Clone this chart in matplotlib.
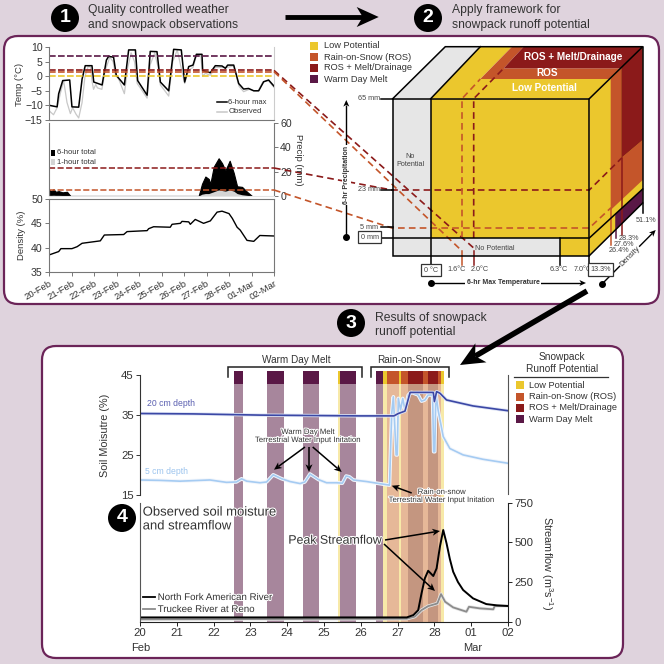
"""Four step snowpack runoff figure: observations, framework, results, response
"""
import matplotlib
matplotlib.use('Agg')
import matplotlib.pyplot as plt
import matplotlib.patheffects as pe
from matplotlib.patches import FancyBboxPatch, Polygon, Rectangle

plt.rcParams['font.family'] = ['Liberation Sans', 'DejaVu Sans']
plt.rcParams['mathtext.default'] = 'regular'

LOW = '#EBC72D'
ROS = '#C4552A'
MELT = '#8B1A1A'
WARM = '#5A1846'
BG = '#DFD3DD'
EDGE = '#6B2458'
TXT = '#333333'
LIGHT = {LOW: '#F7E9A8', ROS: '#E6B898', MELT: '#C49680', WARM: '#A7869C'}

# Panel 1, temperature
temp_days = [20.03, 20.36, 20.43, 20.61, 20.92, 21.02, 21.32, 21.47, 21.61,
             21.91, 21.99, 22.36, 22.55, 22.65, 22.87, 22.99, 23.35, 23.54,
             23.84, 23.94, 24.36, 24.5, 24.8, 24.95, 25.32, 25.54, 25.88,
             26.03, 26.21, 26.4, 26.55, 26.8, 26.83, 27.17, 27.39, 27.69,
             27.84, 27.94, 28.21, 28.43, 28.65, 28.87, 29.1, 29.32, 29.54,
             29.76, 30.0]
temp_max = [-10, -10.5, -6, -1.5, -1.3, -10.5, -10.6, -1, 3.6, 3.6, -2, -3,
            5.5, 6.8, 6.5, 0.3, -3, 9, 9, -1.5, -6.5, 8.5, 8.4, -2, -5, 9.2,
            9, -2, 3.3, 3.8, 7.5, 7.5, 1.9, 1.2, 3.6, 3.5, 2.7, 3.8, 3.8,
            -2.5, -4.4, -4.2, -5, -5, -1.9, -1.3, -3.4]
obs_days = [20.03, 20.2, 20.36, 20.5, 20.65, 20.8, 20.95, 21.05, 21.2, 21.32,
            21.47, 21.6, 21.75, 21.85, 21.92, 21.98, 22.08, 22.15, 22.35,
            22.5, 22.7, 22.85, 22.95, 23.1, 23.35, 23.5, 23.65, 23.8, 23.92,
            24.1, 24.36, 24.5, 24.7, 24.85, 24.95, 25.1, 25.32, 25.5, 25.7,
            25.87, 26.03, 26.2, 26.4, 26.55, 26.75, 26.83, 26.95, 27.17,
            27.4, 27.7, 27.9, 28.2, 28.45, 28.65, 28.9, 29.1, 29.3, 29.5,
            29.75, 30.0]
temp_obs = [-12, -13.2, -10.8, -6, -1.5, -9, -12.8, -10.8, -13, -14.3, -9, 0,
            3.5, 3, -2, -4.5, -2.8, -4, -4.5, 2, 6.5, 5, 0.5, -1, -6, 3, 8, 5,
            -2.5, -4.5, -7.5, 4, 8, 3, -3, -4.5, -6.8, 5, 9, 3, -2.5, 2, 3, 7,
            7, 0, 1, 0.3, 3, 3, 3, 3.5, -3.5, -5.3, -4.5, -5, -5, -2, -1.5,
            -3.8]

# Panel 1, precipitation
precip_days = [20.03, 20.1, 20.2, 20.3, 20.43, 20.6, 20.8, 20.95, 26.65, 26.8,
               26.95, 27.1, 27.17, 27.32, 27.54, 27.69, 27.84, 28.03, 28.21,
               28.36, 28.58, 28.8, 29.02]
precip_6hr = [5, 4, 5.5, 3.5, 4, 3, 3.5, 0, 0, 10, 16, 14, 10, 24, 31, 27, 21,
              29, 19, 8, 7.5, 3.5, 0]
precip_1hr = [0.5, 0.5, 0.6, 0.5, 0.5, 0.4, 0.4, 0, 0, 1.5, 2, 2, 2.5, 3.5,
              5, 4.5, 4, 5, 4, 2, 1, 0.5, 0]

# Panel 1, density
dens_days = [20.0, 20.43, 20.53, 21.02, 21.25, 21.47, 22.28, 22.46, 23.32,
             23.47, 24.36, 24.43, 24.65, 25.39, 25.47, 25.84, 25.91, 26.21,
             26.28, 26.5, 26.87, 27.17, 27.47, 27.69, 28.0, 28.15, 28.36,
             28.5, 28.8, 29.1, 29.37, 30.0]
density = [38.5, 39.2, 39.8, 39.8, 40.2, 40.9, 41.4, 42.6, 42.7, 43.3, 43.5,
           43.9, 44.3, 44.2, 44.8, 45, 45.4, 45.3, 44.8, 45.8, 45, 45.5, 47.3,
           47.5, 47, 46, 44.2, 43.6, 41.5, 41.3, 42.5, 42.4]
date_labels = ['20-Feb', '21-Feb', '22-Feb', '23-Feb', '24-Feb', '25-Feb',
               '26-Feb', '27-Feb', '28-Feb', '01-Mar', '02-Mar']

# Panel 4, runoff potential bands
band_start = [22.55, 23.44, 24.43, 25.38, 25.44, 26.42, 26.59, 26.71, 27.03,
              27.09, 27.29, 27.68, 27.82, 28.10, 28.18]
band_end = [22.79, 23.90, 24.87, 25.44, 25.88, 26.59, 26.71, 27.03, 27.09,
            27.29, 27.68, 27.82, 28.10, 28.18, 28.26]
band_color = [WARM, WARM, WARM, LOW, WARM, WARM, LOW, ROS, LOW, ROS, MELT, ROS,
              MELT, ROS, LOW]

# Panel 4, soil moisture
sm20_days = [20.0, 21.45, 23.26, 25.97, 26.9, 27.02, 27.2, 27.34, 27.97, 28.0,
             28.06, 28.15, 28.33, 29.05, 30.0]
sm20 = [35.4, 35.3, 35.0, 34.8, 34.8, 35.4, 36, 40.7, 40.7, 38.4, 40.9, 40.5,
        38.8, 37.3, 36.1]
sm5_days = [20.0, 20.54, 21.09, 21.9, 22.35, 22.62, 22.76, 22.9, 23.26, 23.44,
            23.62, 23.85, 24.08, 24.35, 24.48, 24.62, 24.85, 25.07, 25.34,
            25.5, 25.6, 25.69, 25.8, 26.16, 26.43, 26.78, 26.84, 26.885,
            26.96, 26.99, 27.02, 27.08, 27.14, 27.2, 27.29, 27.38, 27.56,
            27.65, 27.74, 27.83, 27.95, 27.98, 28.01, 28.04, 28.1, 28.24,
            28.42, 28.78, 29.32, 30.0]
sm5 = [18.7, 18.6, 18.4, 18.7, 18.1, 18.2, 19, 18.4, 18, 18.2, 20, 19, 18.3,
       17.8, 18.2, 20.2, 18.8, 18, 18, 17.9, 19.7, 19.5, 18.7, 18.3, 17.9,
       17.4, 35.4, 39.6, 25, 25, 39.2, 36.3, 39.2, 36.3, 40.05, 40.7, 40.05,
       38.5, 38.8, 40.05, 40.05, 25.8, 25.8, 40.5, 36.3, 29.6, 26.6, 25, 23.9,
       22.9]

# Panel 4, streamflow
flow_days = [20.0, 27.25, 27.43, 27.56, 27.65, 27.74, 27.83, 27.97, 28.06,
             28.15, 28.24, 28.33, 28.42, 28.51, 28.64, 28.78, 29.05, 29.41,
             29.7, 30.0]
flow_nf = [27, 27, 42, 73, 178, 273, 321, 288, 336, 473, 578, 494, 395, 315,
           250, 200, 147, 111, 103, 99]
truckee_days = [20.0, 27.25, 27.47, 27.65, 27.83, 28.08, 28.18, 28.29, 28.51,
                28.87, 28.94, 29.23, 29.6, 29.64, 30.0]
flow_tr = [15, 19, 32, 73, 98, 115, 174, 126, 90, 63, 94, 84, 78, 99, 99]
flow_ticks = [0, 250, 500, 750]
day_labels = ['20', '21', '22', '23', '24', '25', '26', '27', '28', '01', '02']

legend_names = ['Low Potential', 'Rain-on-Snow (ROS)', 'ROS + Melt/Drainage',
                'Warm Day Melt']
legend_colors = [LOW, ROS, MELT, WARM]


def px_axes(x0, y0, x1, y1, **kwargs):
    """Axes placed by pixel box, y measured from the top of the picture."""
    return fig.add_axes([x0 / 664., 1 - y1 / 664., (x1 - x0) / 664.,
                         (y1 - y0) / 664.], **kwargs)


def stealth(ax, x0, y0, x1, y1, lw=1.5, head=8.):
    """Black line ending in a swept back arrow head."""
    dx, dy = x1 - x0, y1 - y0
    size = (dx ** 2 + dy ** 2) ** 0.5
    ux, uy = dx / size, dy / size
    bx, by = x1 - ux * head * 0.8, y1 - uy * head * 0.8
    ax.plot([x0, bx], [y0, by], color='k', lw=lw, solid_capstyle='butt')
    pts = [(x1, y1),
           (x1 - ux * head * 1.1 - uy * head * 0.5,
            y1 - uy * head * 1.1 + ux * head * 0.5),
           (bx, by),
           (x1 - ux * head * 1.1 + uy * head * 0.5,
            y1 - uy * head * 1.1 - ux * head * 0.5)]
    ax.add_patch(Polygon(pts, closed=True, fc='k', ec='none'))


def number(ax, x, y, label):
    ax.add_patch(plt.Circle((x, y), 14, fc='k', ec='none', zorder=5))
    ax.text(x, y, label, color='w', fontsize=14, fontweight='bold',
            ha='center', va='center', zorder=6)


def style_axis(ax, color='#777777', size=7.6):
    ax.patch.set_alpha(0)
    ax.tick_params(colors=TXT, labelsize=size, length=3, width=0.7, pad=1.5,
                   color=color)
    for spine in ax.spines.values():
        spine.set_color(color)
        spine.set_linewidth(0.8)


fig = plt.figure(figsize=(6.64, 6.64), dpi=100, facecolor=BG)

# Panel backgrounds
back = px_axes(0, 0, 664, 664, zorder=0)
back.set_xlim(0, 664)
back.set_ylim(664, 0)
back.axis('off')
for x0, y0, x1, y1 in [(4, 36, 659, 304), (42, 346, 623, 658)]:
    back.add_patch(FancyBboxPatch((x0 + 14, y0 + 14), x1 - x0 - 28,
                                  y1 - y0 - 28, boxstyle='round,pad=14',
                                  fc='w', ec=EDGE, lw=1.6))

# Temperature
ax = px_axes(49, 47, 274, 120, zorder=2)
style_axis(ax)
ax.plot(obs_days, temp_obs, color='#C8C8C8', lw=0.9)
ax.plot(temp_days, temp_max, color='k', lw=1.1)
for level, color in [(7, WARM), (0, LOW), (1.6, ROS), (2, MELT)]:
    ax.axhline(level, color=color, lw=1.2, ls=(0, (4, 1.4)))
ax.set_xlim(20, 30)
ax.set_ylim(-15, 10)
ax.set_yticks([-15, -10, -5, 0, 5, 10])
ax.set_yticklabels(['\u221215', '\u221210', '\u22125', '0', '5', '10'])
ax.set_xticks([])
ax.spines['top'].set_visible(False)
ax.spines['right'].set_color('#CCCCCC')

# Precipitation
ax = px_axes(49, 123, 274, 196, zorder=2)
style_axis(ax)
ax.fill_between(precip_days, precip_6hr, color='k', lw=0.8)
ax.fill_between(precip_days, precip_1hr, color='#D4D4D4', lw=0)
ax.axhline(23, color=MELT, lw=1.1, ls=(0, (4, 1.6)))
ax.axhline(5, color=ROS, lw=1.1, ls=(0, (4, 1.6)))
ax.set_xlim(20, 30)
ax.set_ylim(0, 60)
ax.yaxis.tick_right()
ax.set_yticks([0, 20, 40, 60])
ax.set_xticks([])
ax.spines['top'].set_visible(False)
ax.spines['bottom'].set_color('#E4E4E4')

# Density
ax = px_axes(49, 199, 274, 272, zorder=2)
style_axis(ax)
ax.plot(dens_days, density, color='k', lw=1)
ax.set_xlim(20, 30)
ax.set_ylim(35, 50)
ax.set_yticks([35, 40, 45, 50])
ax.set_xticks(list(range(20, 31)))
ax.set_xticklabels(date_labels, rotation=30, ha='right', rotation_mode='anchor',
                   fontsize=6.8)
ax.tick_params(axis='x', pad=2)

# Bands behind the soil moisture and streamflow curves
bands = px_axes(140, 370.7, 508, 621.7, zorder=1)
bands.axis('off')
bands.set_xlim(20, 30)
bands.set_ylim(0, 1)
for start, end, color in zip(band_start, band_end, band_color):
    bands.axvspan(start, end, 0, 0.947, color=LIGHT[color], lw=0)
    bands.axvspan(start, end, 0.947, 1, color=color, lw=0)

# Soil moisture
ax = px_axes(140, 375.3, 508, 494.7, zorder=2)
style_axis(ax, color='#333333', size=8.2)
ax.plot(sm5_days, sm5, color='#A5CBF2', lw=1.2,
        path_effects=[pe.withStroke(linewidth=2.6, foreground='#F2F6FC')])
ax.plot(sm20_days, sm20, color='#3B47A5', lw=1.2,
        path_effects=[pe.withStroke(linewidth=2.4, foreground='#DDE3F5')])
ax.set_xlim(20, 30)
ax.set_ylim(15, 45)
ax.set_yticks([15, 25, 35, 45])
ax.set_xticks([])
ax.spines['top'].set_visible(False)
ax.spines['bottom'].set_visible(False)
ax.spines['right'].set_bounds(15.3, 45)
ax.spines['right'].set_color('#555555')

# Streamflow
ax = px_axes(140, 502.7, 508, 621.7, zorder=2)
style_axis(ax, color='#222222', size=8.2)
ax.plot(truckee_days, flow_tr, color='#8C8C8C', lw=1.3,
        path_effects=[pe.withStroke(linewidth=2.4, foreground='#E8E8E8')])
ax.plot(flow_days, flow_nf, color='k', lw=1.4)
ax.set_xlim(20, 30)
ax.set_ylim(0, 750)
ax.yaxis.tick_right()
ax.set_yticks(flow_ticks)
ax.set_xticks(list(range(20, 31)))
ax.set_xticklabels(day_labels)
ax.spines['top'].set_visible(False)
ax.spines['left'].set_color('#555555')

# Everything drawn in picture pixels
top = px_axes(0, 0, 664, 664, zorder=3)
top.set_xlim(0, 664)
top.set_ylim(664, 0)
top.axis('off')

# Cube faces
faces = [
    ([(392.7, 98.7), (445.3, 46.7), (480.3, 46.7), (430.7, 98.7)], '#E6E6E6'),
    ([(430.7, 98.7), (480.3, 46.7), (512, 46.7), (480.3, 79), (608.7, 79),
      (589.3, 98.7)], LOW),
    ([(480.3, 79), (512, 46.7), (523.7, 46.7), (503.7, 68.3), (620.7, 68.3),
      (609.5, 79)], ROS),
    ([(503.7, 68.3), (523.7, 46.7), (642.7, 46.7), (620.7, 68.3)], MELT),
    ([(589.3, 98.7), (642.7, 46.7), (642.7, 203), (589.3, 255)], LOW),
    ([(610.7, 79), (621.3, 68), (621.3, 158), (642.7, 140), (642.7, 180),
      (610.7, 210)], ROS),
    ([(621.3, 68), (642.7, 46.7), (642.7, 140), (621.3, 158)], MELT),
    ([(616, 214), (642.7, 189), (642.7, 203), (616, 229)], WARM),
]
for pts, color in faces:
    top.add_patch(Polygon(pts, closed=True, fc=color, ec='none'))
top.add_patch(Rectangle((392.7, 98.7), 38, 157, fc='#E6E6E6', ec='none'))
top.add_patch(Rectangle((430.7, 98.7), 158.6, 139.3, fc=LOW, ec='none'))
top.add_patch(Rectangle((430.7, 238), 129.3, 17.7, fc='#E6E6E6', ec='none'))
top.add_patch(Rectangle((560, 238), 29.3, 17.7, fc=LOW, ec='none'))

# Cube guides and connectors
dash = (0, (4, 2.5))
for xs, ys, color in [
        ([274, 473.7], [70.4, 248], MELT),
        ([274, 462], [71.7, 251], ROS),
        ([274, 392, 589.3, 621.7], [168, 190, 190, 158], MELT),
        ([274, 392, 589.3, 610.7], [190, 228, 228, 208], ROS),
        ([473.7, 473.7, 503.7], [238, 98.7, 68.3], MELT),
        ([462, 462, 480.3], [238, 98.7, 79], ROS)]:
    top.plot(xs, ys, color=color, lw=1.2, ls=dash)
for x, y0, y1, color in [(473.7, 251, 265, MELT), (462, 251, 265, ROS),
                         (621.7, 158, 235, MELT), (610.7, 208, 245, ROS),
                         (616, 214, 238, WARM)]:
    top.plot([x, x], [y0, y1], color=color, lw=1.1)

# Cube edges
for xs, ys in [([392.7, 589.3, 589.3, 392.7, 392.7],
                [98.7, 98.7, 255.7, 255.7, 98.7]),
               ([392.7, 445.3, 642.7, 589.3], [98.7, 46.7, 46.7, 98.7]),
               ([430.7, 480.3], [98.7, 46.7]),
               ([430.7, 430.7], [98.7, 265]),
               ([642.7, 642.7], [46.7, 213]),
               ([589.3, 642.7], [255.7, 203]),
               ([381, 589.3, 642.7], [238, 238, 189]),
               ([560, 560], [238, 265]),
               ([589.3, 589.3], [255.7, 265]),
               ([381, 392.7], [98.7, 98.7]),
               ([381, 392.7], [190, 190]),
               ([381, 392.7], [227.3, 227.3])]:
    top.plot(xs, ys, color='k', lw=1.1, solid_joinstyle='miter')

# Cube text
for x, y, label in [(572.7, 57, 'ROS + Melt/Drainage'), (547, 73, 'ROS'),
                    (544.7, 88, 'Low Potential')]:
    top.text(x, y, label, color='w', fontsize=7.2, fontweight='bold',
             ha='center', va='center')
small = dict(color='#444444', fontsize=5.2, ha='center', va='center')
top.text(410, 160, 'No\nPotential', **small)
top.text(495, 248, 'No Potential', **small)
for x, label in [(456.7, '1.6\u00b0C'), (480, '2.0\u00b0C'),
                 (559, '6.3\u00b0C'), (583, '7.0\u00b0C')]:
    top.text(x, 269.3, label, **small)
for x, y, label in [(369, 98.7, '65 mm'), (369, 189.7, '23 mm'),
                    (369, 227.3, '5 mm'), (646, 220, '51.1%'),
                    (629.3, 238, '28.3%'), (624.3, 244.7, '27.6%'),
                    (619.3, 251, '26.4%')]:
    top.text(x, y, label, **small)
boxed = dict(fc='w', ec='#333333', lw=0.9, boxstyle='square,pad=0.35')
top.text(369.7, 237.3, '0 mm', bbox=boxed, **small)
top.text(431, 270, '0 \u00b0C', bbox=boxed, **small)
top.text(600.7, 269.5, '13.3%', bbox=boxed, **small)

# Cube axes
for x0, y0, x1, y1 in [(346.3, 236.7, 346.3, 100), (431.3, 283, 586, 283),
                       (601.7, 284.3, 655.7, 230)]:
    stealth(top, x0, y0, x1, y1, lw=1, head=6)
    top.plot(x0, y0, 'o', color='k', ms=4)
bold = dict(color='#333333', fontsize=5, fontweight='bold', ha='center',
            va='center', bbox=dict(fc='w', ec='none', pad=0.8))
top.text(346.3, 175, '6-hr Precipitation', rotation=90, **bold)
top.text(503, 283, '6-hr Max Temperature', **bold)
top.text(630, 256.7, 'Density', rotation=45, color='#333333', fontsize=5.5,
         ha='center', va='center', bbox=dict(fc='w', ec='none', pad=0.5))

# Step headings
number(top, 65, 18, '1')
number(top, 428, 18, '2')
number(top, 351, 323, '3')
number(top, 122, 518, '4')
head = dict(color=TXT, fontsize=8.7, va='center', ha='left', linespacing=1.3)
top.text(87.5, 17.5, 'Quality controlled weather\nand snowpack observations',
         **head)
top.text(452, 17.5, 'Apply framework for\nsnowpack runoff potential', **head)
top.text(375, 325, 'Results of snowpack\nrunoff potential', **head)
stealth(top, 285, 17, 378.7, 17, lw=3.5, head=20)
stealth(top, 587, 291, 460, 365, lw=4, head=22)

# Panel 1 labels and legends
label = dict(color=TXT, fontsize=6.8, ha='center', va='center')
top.text(19, 84, 'Temp (\u00b0C)', rotation=90, **label)
top.text(21, 235, 'Density (%)', rotation=90, **label)
top.text(299, 160, 'Precip (mm)', rotation=270, **label)
top.plot([217, 227], [102, 102], color='k', lw=1.1)
top.plot([217, 227], [111.7, 111.7], color='#C8C8C8', lw=1.1)
top.text(228.5, 102, '6-hour max', color=TXT, fontsize=5.5, va='center')
top.text(228.5, 111.7, 'Observed', color=TXT, fontsize=5.5, va='center')
top.add_patch(Rectangle((50.5, 149.5), 4, 6, fc='k', ec='none'))
top.add_patch(Rectangle((50.5, 159), 4, 6, fc='#D4D4D4', ec='none'))
top.text(57, 152.7, '6-hour total', color=TXT, fontsize=5.5, va='center')
top.text(57, 162, '1-hour total', color=TXT, fontsize=5.5, va='center')

# Category legends
for y, name, color in zip([46, 57, 68, 79], legend_names, legend_colors):
    top.add_patch(Rectangle((310, y - 4), 8, 8, fc=color, ec='none'))
    top.text(324, y, name, color=TXT, fontsize=6.7, va='center')
for y, name, color in zip([385.3, 396.7, 407.7, 419], legend_names,
                          legend_colors):
    top.add_patch(Rectangle((516, y - 4), 8, 8, fc=color, ec='none'))
    top.text(529.3, y, name, color=TXT, fontsize=6.7, va='center')
top.text(561.7, 363, 'Snowpack\nRunoff Potential', color=TXT, fontsize=7.3,
         ha='center', va='center', linespacing=1.15)
top.plot([514, 607.7], [376.7, 376.7], color='#333333', lw=0.9)

# Panel 4 brackets
for x0, x1, label_x, name in [(227.7, 362.3, 296.7, 'Warm Day Melt'),
                              (371.3, 448.7, 409, 'Rain-on-Snow')]:
    top.plot([x0, x0, x1, x1], [376.7, 366.7, 366.7, 376.7], color='#222222',
             lw=1.1, solid_joinstyle='miter')
    top.text(label_x, 360.3, name, color=TXT, fontsize=7.2, ha='center',
             va='center')

# Panel 4 labels
top.text(146.7, 404, '20 cm depth', color='#5A5FB0', fontsize=6.2, va='center')
top.text(144.7, 471.7, '5 cm depth', color='#9CC4EE', fontsize=6.2,
         va='center')
halo = [pe.withStroke(linewidth=1.5, foreground='w')]
top.text(308, 436.5, 'Warm Day Melt\nTerrestrial Water Input Initation',
         color=TXT, fontsize=5.6, ha='center', va='center', path_effects=halo)
top.text(441.7, 496.5, 'Rain-on-snow\nTerrestrial Water Input Initation',
         color=TXT, fontsize=5.6, ha='center', va='center', path_effects=halo)
top.text(142.7, 519.5, 'Observed soil moisture\nand streamflow', color=TXT,
         fontsize=9.4, va='center', linespacing=1.2, path_effects=halo)
top.text(288.3, 540.7, 'Peak Streamflow', color=TXT, fontsize=8.9, va='center',
         path_effects=halo)
for x0, y0, x1, y1 in [(305, 447, 274, 469.7), (309, 447, 309, 472),
                       (312.7, 447, 341.7, 472), (411.7, 493, 391.7, 485.7),
                       (385, 540, 440, 531), (384, 544, 435, 591)]:
    stealth(top, x0, y0, x1, y1, lw=1.1, head=7)
top.plot([142.7, 155], [597, 597], color='k', lw=1.3)
top.plot([142.7, 155], [609, 609], color='#8C8C8C', lw=1.3)
top.text(157.7, 597, 'North Fork American River', color=TXT, fontsize=7,
         va='center', path_effects=halo)
top.text(157.7, 609, 'Truckee River at Reno', color=TXT, fontsize=7,
         va='center', path_effects=halo)
top.text(105, 435, 'Soil Moisutre (%)', rotation=90, color=TXT, fontsize=7.8,
         ha='center', va='center')
top.text(547, 563, 'Streamflow (m$^{3}$s$^{-1}$)', rotation=270, color=TXT,
         fontsize=7.8, ha='center', va='center')
top.text(141, 648, 'Feb', color=TXT, fontsize=8, ha='center', va='center')
top.text(473, 648, 'Mar', color=TXT, fontsize=8, ha='center', va='center')

fig.savefig('out.png', dpi=100, facecolor=BG)
